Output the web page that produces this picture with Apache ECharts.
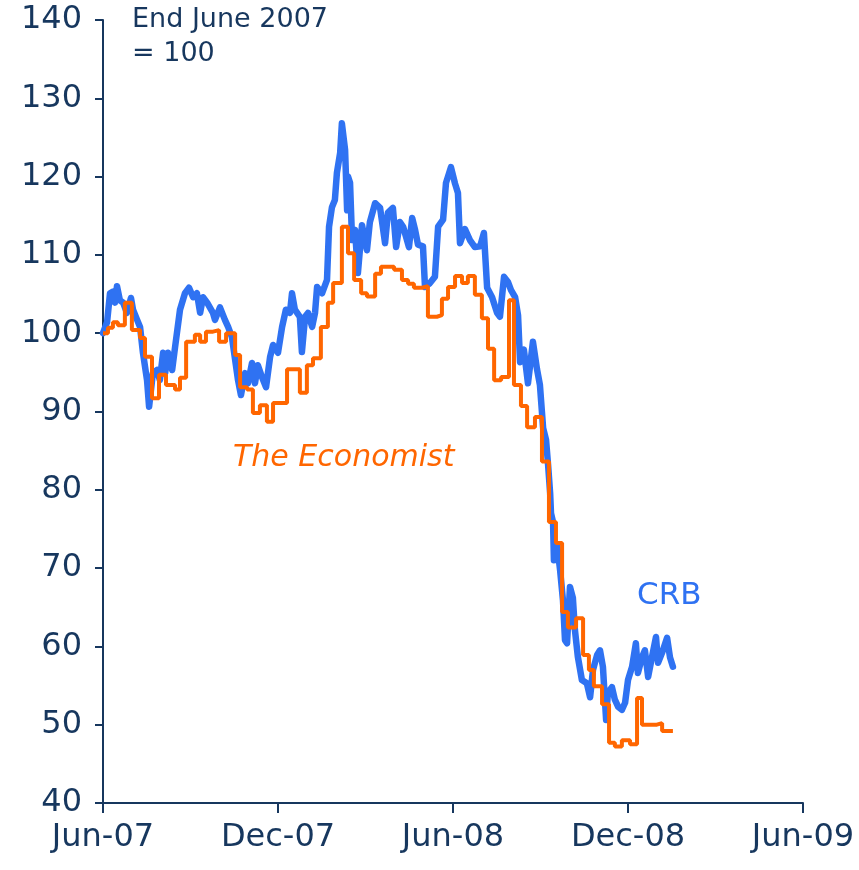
<!DOCTYPE html>
<html>
<head>
<meta charset="utf-8">
<script src="https://cdn.jsdelivr.net/npm/echarts@6/dist/echarts.min.js"></script>
<style>
  html, body { margin: 0; padding: 0; background: #fff; }
  #chart { width: 859px; height: 870px; }
</style>
</head>
<body>
<div id="chart"></div>
<script>
// x = months after end June 2007, y = index (end June 2007 = 100)
let monthLabels = ['Jun-07', 'Dec-07', 'Jun-08', 'Dec-08', 'Jun-09'];

let crb = [
  [0, 100.0], [0.14, 101.4], [0.24, 105.1], [0.34, 105.3], [0.41, 103.9], [0.48, 106.0], [0.58, 104.2],
  [0.69, 103.9], [0.82, 102.6], [0.96, 104.5], [1.03, 103.0], [1.17, 101.7], [1.27, 100.8], [1.37, 97.5],
  [1.51, 94.0], [1.58, 90.6], [1.71, 94.9], [1.85, 95.3], [1.95, 94.0], [2.06, 97.5], [2.13, 94.9],
  [2.23, 97.5], [2.37, 95.3], [2.47, 98.2], [2.64, 103.0], [2.81, 105.1], [2.95, 105.8], [3.09, 104.6],
  [3.22, 105.1], [3.33, 102.6], [3.43, 104.6], [3.57, 103.9], [3.77, 102.6], [3.84, 101.7], [4.01, 103.3],
  [4.18, 101.7], [4.29, 100.8], [4.42, 99.5], [4.53, 96.6], [4.63, 94.0], [4.73, 92.1], [4.87, 94.9],
  [4.97, 93.6], [5.11, 96.2], [5.21, 93.6], [5.31, 95.9], [5.45, 94.4], [5.59, 93.1], [5.73, 97.0],
  [5.83, 98.5], [6.00, 97.5], [6.14, 100.8], [6.27, 103.0], [6.41, 102.6], [6.48, 105.1], [6.58, 103.0],
  [6.75, 102.1], [6.82, 97.6], [6.93, 102.1], [7.03, 102.6], [7.17, 100.8], [7.27, 102.6], [7.34, 105.9],
  [7.51, 105.1], [7.68, 106.8], [7.75, 113.6], [7.85, 116.1], [7.95, 117.0], [8.02, 120.5], [8.13, 123.0],
  [8.19, 126.8], [8.30, 123.4], [8.37, 115.7], [8.40, 120.0], [8.47, 119.2], [8.54, 111.9], [8.64, 113.2],
  [8.74, 107.7], [8.88, 113.8], [9.05, 110.6], [9.15, 114.2], [9.33, 116.6], [9.50, 116.0], [9.67, 111.5],
  [9.77, 115.4], [9.94, 116.0], [10.05, 111.0], [10.18, 114.2], [10.29, 113.6], [10.49, 111.0], [10.60, 114.7],
  [10.70, 113.2], [10.80, 111.3], [10.97, 111.1], [11.04, 105.9], [11.21, 106.4], [11.38, 107.2], [11.49, 113.6],
  [11.66, 114.5], [11.76, 119.2], [11.93, 121.2], [12.07, 119.1], [12.17, 117.9], [12.24, 111.5], [12.41, 113.3],
  [12.58, 111.9], [12.75, 111.0], [12.93, 111.1], [13.06, 112.8], [13.17, 105.8], [13.34, 104.6], [13.51, 102.6],
  [13.61, 102.1], [13.75, 107.2], [13.89, 106.5], [13.99, 105.5], [14.13, 104.6], [14.23, 102.3], [14.30, 96.3],
  [14.43, 97.9], [14.57, 93.6], [14.74, 98.9], [14.88, 95.4], [14.98, 93.4], [15.09, 87.9], [15.19, 86.4],
  [15.26, 83.2], [15.33, 79.6], [15.36, 77.0], [15.43, 75.9], [15.46, 71.0], [15.57, 73.0], [15.67, 69.8],
  [15.77, 65.9], [15.84, 60.8], [15.91, 60.4], [16.01, 67.6], [16.11, 66.2], [16.18, 62.1], [16.28, 58.7],
  [16.42, 55.7], [16.59, 55.3], [16.70, 53.5], [16.80, 57.0], [16.94, 58.9], [17.04, 59.5], [17.14, 57.4],
  [17.25, 50.6], [17.31, 54.1], [17.45, 54.8], [17.55, 53.2], [17.66, 52.3], [17.79, 51.9], [17.90, 52.8],
  [18.00, 55.7], [18.14, 57.4], [18.27, 60.4], [18.34, 56.6], [18.48, 58.6], [18.58, 59.5], [18.69, 56.1],
  [18.82, 58.6], [18.96, 61.2], [19.03, 57.9], [19.17, 59.2], [19.34, 61.1], [19.44, 58.6], [19.54, 57.4]
];

// weekly index, each level held until the next point
let economist = [
  [0, 100.0], [0.17, 100.7], [0.34, 101.4], [0.51, 101.0], [0.75, 103.9], [0.99, 100.4], [1.27, 99.4],
  [1.44, 97.0], [1.68, 91.7], [1.92, 94.7], [2.16, 93.4], [2.47, 92.8], [2.64, 94.3], [2.85, 98.9],
  [3.15, 99.8], [3.33, 98.9], [3.53, 100.2], [3.77, 100.4], [3.98, 98.9], [4.22, 100.0], [4.53, 97.2],
  [4.70, 93.1], [4.94, 92.8], [5.14, 89.8], [5.38, 90.8], [5.62, 88.7], [5.83, 91.1], [6.31, 95.4],
  [6.75, 92.4], [6.99, 95.9], [7.20, 96.8], [7.47, 100.8], [7.71, 103.9], [7.89, 106.4], [8.19, 113.6],
  [8.40, 110.2], [8.61, 106.8], [8.85, 105.1], [9.05, 104.7], [9.33, 107.6], [9.53, 108.5], [9.98, 108.1],
  [10.25, 106.8], [10.46, 106.3], [10.66, 105.8], [10.94, 106.0], [11.14, 102.1], [11.45, 102.3], [11.62, 104.4],
  [11.83, 105.9], [12.07, 107.3], [12.31, 106.4], [12.51, 107.3], [12.75, 104.9], [12.99, 101.9], [13.20, 98.0],
  [13.41, 94.0], [13.65, 94.4], [13.92, 104.2], [14.09, 93.4], [14.33, 90.7], [14.54, 88.0], [14.81, 89.3],
  [15.05, 83.6], [15.29, 75.9], [15.53, 73.2], [15.74, 64.4], [15.94, 62.4], [16.22, 63.6], [16.46, 58.9],
  [16.66, 57.0], [16.83, 54.9], [17.11, 52.6], [17.35, 47.7], [17.55, 47.2], [17.79, 48.0], [18.07, 47.5],
  [18.31, 53.4], [18.48, 50.0], [18.99, 50.2], [19.17, 49.2], [19.54, 49.2]
];

let navy = '#17375e';
let chart = echarts.init(document.getElementById('chart'));
chart.setOption({
  animation: false,
  grid: { left: 103, right: 56, top: 20, bottom: 67 },
  xAxis: {
    type: 'value', min: 0, max: 24, interval: 6,
    axisLine: { show: true, lineStyle: { color: navy, width: 2 } },
    axisTick: { show: true, length: 10, lineStyle: { color: navy, width: 2 } },
    axisLabel: {
      margin: 19, color: navy, fontSize: 32, fontFamily: 'DejaVu Sans',
      formatter: v => monthLabels[v / 6]
    },
    splitLine: { show: false }
  },
  yAxis: {
    type: 'value', min: 40, max: 140, interval: 10,
    axisLine: { show: true, lineStyle: { color: navy, width: 2 } },
    axisTick: { show: true, length: 8, lineStyle: { color: navy, width: 2 } },
    axisLabel: { margin: 21, color: navy, fontSize: 32, fontFamily: 'DejaVu Sans' },
    splitLine: { show: false }
  },
  series: [
    {
      name: 'CRB', type: 'line', data: crb, symbol: 'none',
      lineStyle: { color: '#2f72f2', width: 6.5, join: 'round', cap: 'round' }
    },
    {
      name: 'The Economist', type: 'line', data: economist, symbol: 'none', step: 'end',
      lineStyle: { color: '#ff6600', width: 4 }
    }
  ],
  graphic: [
    { type: 'text', left: 132, top: 3, style: { text: 'End June 2007\n= 100', fill: navy, font: '27px "DejaVu Sans"', lineHeight: 34 } },
    { type: 'text', left: 233, top: 443, style: { text: 'The Economist', fill: '#ff6600', font: 'italic 30px "DejaVu Sans"' } },
    { type: 'text', left: 637, top: 580, style: { text: 'CRB', fill: '#2f72f2', font: '31px "DejaVu Sans"' } }
  ]
});
</script>
</body>
</html>
